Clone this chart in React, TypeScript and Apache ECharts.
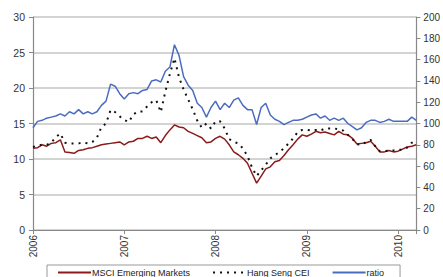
import React, { useEffect, useRef } from "react";
import * as echarts from "echarts";

const dates = [
  2006.0, 2006.05, 2006.1, 2006.15, 2006.2, 2006.25, 2006.3, 2006.35, 2006.4, 2006.45,
  2006.5, 2006.55, 2006.6, 2006.65, 2006.7, 2006.75, 2006.8, 2006.85, 2006.9, 2006.95,
  2007.0, 2007.05, 2007.1, 2007.15, 2007.2, 2007.25, 2007.3, 2007.35, 2007.4, 2007.45,
  2007.5, 2007.55, 2007.6, 2007.65, 2007.7, 2007.75, 2007.8, 2007.85, 2007.9, 2007.95,
  2008.0, 2008.05, 2008.1, 2008.15, 2008.2, 2008.25, 2008.3, 2008.35, 2008.4, 2008.45,
  2008.5, 2008.55, 2008.6, 2008.65, 2008.7, 2008.75, 2008.8, 2008.85, 2008.9, 2008.95,
  2009.0, 2009.05, 2009.1, 2009.15, 2009.2, 2009.25, 2009.3, 2009.35, 2009.4, 2009.45,
  2009.5, 2009.55, 2009.6, 2009.65, 2009.7, 2009.75, 2009.8, 2009.85, 2009.9, 2009.95,
  2010.0, 2010.05, 2010.1, 2010.15, 2010.2,
];

const msciEM = [
  11.5, 11.6, 12.0, 11.8, 12.2, 12.3, 12.7, 11.0, 10.9, 10.8,
  11.2, 11.3, 11.5, 11.6, 11.8, 12.0, 12.1, 12.2, 12.3, 12.4,
  12.0, 12.4, 12.5, 12.9, 12.9, 13.2, 12.9, 13.1, 12.3, 13.3,
  14.1, 14.8, 14.5, 14.4, 13.9, 13.6, 13.3, 13.0, 12.3, 12.4,
  12.9, 13.2, 12.8, 12.0, 11.0, 10.6, 10.1, 9.4, 8.0, 6.6,
  7.6, 8.6, 8.9, 9.6, 9.8, 10.5, 11.3, 12.0, 12.8, 13.4,
  13.2, 13.5, 13.9, 13.7, 13.8, 13.6, 13.4, 13.9, 13.5, 13.4,
  12.9, 12.1, 12.2, 12.3, 12.5, 11.8, 11.0, 11.0, 11.2, 11.0,
  11.1, 11.4, 11.7, 11.8, 12.0,
];

const hangSengCEI = [
  11.7, 11.9, 12.0, 12.0, 12.3, 13.1, 13.6, 12.3, 12.2, 12.2,
  12.2, 12.3, 12.2, 12.4, 13.0, 14.5, 15.0, 16.9, 16.6, 16.0,
  15.5, 15.2, 16.3, 16.7, 16.7, 17.4, 18.0, 18.3, 16.6, 19.5,
  22.0, 24.2, 21.5, 19.8, 18.4, 17.0, 15.4, 14.4, 15.0, 14.3,
  15.3, 15.3, 14.3, 12.8, 12.4, 12.2, 11.5, 10.4, 8.8, 7.6,
  8.4, 9.2, 10.1, 10.5, 11.0, 11.5, 12.2, 12.9, 13.8, 14.1,
  14.1, 14.0, 14.1, 14.0, 14.3, 14.3, 14.3, 14.2, 14.0, 13.4,
  12.8, 12.1, 12.0, 12.4, 12.7, 11.8, 11.1, 11.1, 11.2, 11.2,
  11.3, 11.3, 11.6, 12.3, 12.3,
];

const ratio = [
  96, 102, 103, 105, 106, 107, 109, 107, 111, 109,
  113, 109, 111, 109, 111, 117, 121, 137, 135, 128,
  123, 128, 129, 128, 131, 132, 140, 141, 139, 149,
  153, 174, 164, 144, 136, 131, 119, 115, 106, 115,
  121, 113, 119, 115, 122, 124, 117, 113, 113, 99,
  115, 119, 108, 104, 102, 99, 101, 103, 103, 104,
  106, 108, 109, 105, 107, 103, 105, 103, 105, 100,
  97, 94, 96, 101, 103, 103, 101, 102, 104, 102,
  102, 102, 102, 106, 103,
];

const seriesNames = ["MSCI Emerging Markets", "Hang Seng CEI", "ratio"];

export default function App() {
  const ref = useRef<HTMLDivElement>(null);
  useEffect(() => {
    if (!ref.current) return;
    const chart = echarts.init(ref.current, null, { renderer: "svg" });
    const font = "'Liberation Sans', Arial, sans-serif";
    const zip = (vals: number[]) => dates.map((d, i) => [d, vals[i]]);
    chart.setOption({
      animation: false,
      textStyle: { fontFamily: font },
      grid: { left: 33, right: 18, top: 17, bottom: 47 },
      legend: {
        data: seriesNames,
        left: 47,
        top: 265,
        itemWidth: 33,
        itemHeight: 8,
        itemGap: 22,
        padding: [3, 16, 6, 10],
        borderColor: "#999",
        borderWidth: 1,
        itemStyle: { opacity: 0, borderWidth: 0 },
        textStyle: { fontSize: 9, color: "#222", fontFamily: font, padding: [0, 0, 0, -4] },
      },
      xAxis: {
        type: "value",
        min: 2006,
        max: 2010.2,
        interval: 1,
        axisLine: { lineStyle: { color: "#888", width: 1.2 } },
        axisTick: { show: true, length: 4, lineStyle: { color: "#888" } },
        splitLine: { show: false },
        axisLabel: {
          rotate: 90,
          fontSize: 10,
          color: "#333",
          margin: 5,
          formatter: (v: number) => (Number.isInteger(v) ? String(v) : ""),
        },
      },
      yAxis: [
        {
          type: "value",
          min: 0,
          max: 30,
          interval: 5,
          axisLine: { show: true, lineStyle: { color: "#888", width: 1.2 } },
          axisTick: { show: true, length: 4, lineStyle: { color: "#888" } },
          splitLine: { show: true, lineStyle: { color: "#c4c4c4", width: 1.5 } },
          axisLabel: { fontSize: 10.5, color: "#333", margin: 8 },
        },
        {
          type: "value",
          min: 0,
          max: 200,
          interval: 20,
          position: "right",
          axisLine: { show: true, lineStyle: { color: "#888", width: 1.2 } },
          axisTick: { show: true, length: 4, lineStyle: { color: "#888" } },
          splitLine: { show: false },
          axisLabel: { fontSize: 10, color: "#333", margin: 7 },
        },
      ],
      series: [
        {
          name: seriesNames[0],
          type: "line",
          yAxisIndex: 0,
          data: zip(msciEM),
          showSymbol: false,
          symbol: "none",
          lineStyle: { color: "#8b1a1a", width: 1.5 },
          itemStyle: { color: "#8b1a1a" },
          z: 3,
        },
        {
          name: seriesNames[1],
          type: "line",
          yAxisIndex: 0,
          data: zip(hangSengCEI),
          showSymbol: false,
          symbol: "none",
          lineStyle: { color: "#111", width: 2, type: [2, 5] },
          itemStyle: { color: "#111" },
          z: 4,
        },
        {
          name: seriesNames[2],
          type: "line",
          yAxisIndex: 1,
          data: zip(ratio),
          showSymbol: false,
          symbol: "none",
          lineStyle: { color: "#4a6cc0", width: 1.5 },
          itemStyle: { color: "#4a6cc0" },
          z: 2,
        },
      ],
    });
    return () => chart.dispose();
  }, []);
  return (
    <div
      ref={ref}
      style={{ position: "fixed", left: 0, top: 0, width: 443, height: 277, background: "#fff" }}
    />
  );
}
